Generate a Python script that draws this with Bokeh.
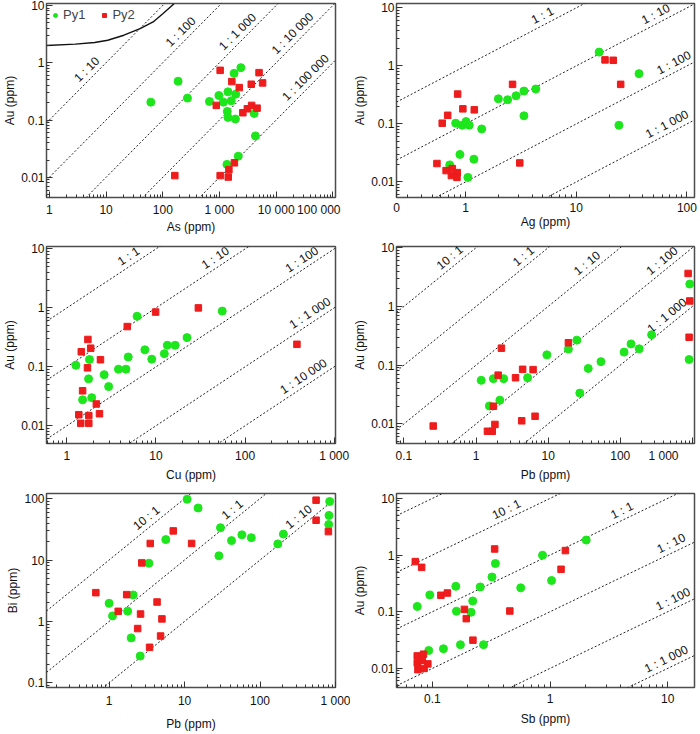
import math
from bokeh.plotting import figure
from bokeh.layouts import gridplot
from bokeh.models import FixedTicker, Legend, LegendItem
from bokeh.core.properties import value
from bokeh.embed import file_html
from bokeh.resources import INLINE

FONT = "Liberation Sans"
GREEN = "#1de61d"
RED = "#ee1c1c"

# --- Au vs As
as_py1 = [61.5, 186, 272, 665, 975, 1170, 1408, 1607, 1371, 1408, 1905, 1931, 1808, 2382, 4083, 4303, 2143, 1353]
au_as_py1 = [0.205, 0.475, 0.241, 0.211, 0.268, 0.205, 0.31, 0.216, 0.141, 0.111, 0.104, 0.282, 0.653, 0.82, 0.13, 0.0528, 0.0234, 0.0168]
as_py2 = [163, 1027, 1650, 2232, 877, 2578, 3098, 3681, 4603, 3630, 4980, 5754, 1027, 1464, 1427, 1832]
au_as_py2 = [0.0107, 0.736, 0.469, 0.368, 0.18, 0.134, 0.157, 0.18, 0.161, 0.421, 0.671, 0.444, 0.0107, 0.0136, 0.0101, 0.0179]
curve_as = [0.89, 2.87, 6.3, 10.7, 20.6, 39.8, 67.5, 100, 158]
curve_au = [2.0, 2.11, 2.25, 2.47, 3.02, 3.94, 5.14, 7.17, 10.7]
as_ratios = [1e-1, 1e-2, 1e-3, 1e-4, 1e-5]
as_ratio_text = ["1 : 10", "1 : 100", "1 : 1 000", "1 : 10 000", "1 : 100 000"]

# --- Au vs Ag
ag_py1 = [16.1, 36.9, 24.3, 4.31, 3.37, 2.86, 2.4, 1.98, 3.37, 1.40, 1.01, 1.08, 0.934, 0.815, 0.89, 1.19, 0.72, 1.05]
au_ag_py1 = [1.73, 0.736, 0.095, 0.40, 0.369, 0.306, 0.261, 0.271, 0.138, 0.082, 0.11, 0.095, 0.095, 0.103, 0.0298, 0.0247, 0.0197, 0.012]
ag_py2 = [18.2, 21.6, 25.2, 2.66, 3.09, 0.849, 0.946, 1.2, 0.69, 0.616, 0.552, 0.668, 0.76, 0.843, 0.745, 0.837]
au_ag_py2 = [1.27, 1.25, 0.481, 0.481, 0.0213, 0.327, 0.182, 0.175, 0.141, 0.103, 0.0208, 0.0157, 0.017, 0.0145, 0.0129, 0.012]
ag_ratios = [1, 1e-1, 1e-2, 1e-3]
ag_ratio_text = ["1 : 1", "1 : 10", "1 : 100", "1 : 1 000"]

# --- Au vs Cu
cu_py1 = [1.26, 1.79, 1.75, 1.5, 1.9, 2.62, 2.94, 3.79, 4.6, 4.88, 6.13, 7.5, 8.96, 12.4, 13.4, 16.4, 22.3, 55.4]
au_cu_py1 = [0.106, 0.133, 0.0625, 0.0276, 0.030, 0.0736, 0.0462, 0.0912, 0.0912, 0.147, 0.721, 0.194, 0.135, 0.167, 0.232, 0.232, 0.313, 0.882]
cu_py2 = [9.9, 29.9, 4.76, 1.72, 1.45, 1.85, 2.38, 1.7, 1.5, 2.14, 2.32, 1.36, 1.76, 1.43, 1.76, 382]
au_cu_py2 = [0.849, 1.0, 0.482, 0.291, 0.18, 0.207, 0.132, 0.096, 0.0392, 0.0234, 0.016, 0.0154, 0.0149, 0.011, 0.011, 0.241]
cu_ratios = [1, 1e-1, 1e-2, 1e-3, 1e-4]
cu_ratio_text = ["1 : 1", "1 : 10", "1 : 100", "1 : 1 000", "1 : 10 000"]

# --- Au vs Pb
pb_py1 = [1.18, 1.74, 2.42, 1.53, 2.14, 5.19, 9.6, 19.1, 25, 27.5, 36, 54, 113, 141, 183, 272, 901, 920]
au_pb_py1 = [0.0553, 0.059, 0.059, 0.0202, 0.0254, 0.0612, 0.15, 0.188, 0.267, 0.0335, 0.088, 0.115, 0.167, 0.23, 0.19, 0.33, 0.125, 2.41]
pb_py2 = [0.255, 1.44, 1.68, 1.83, 1.74, 2.03, 2.25, 3.53, 4.43, 6.19, 4.3, 6.59, 19.1, 873, 920, 901]
au_pb_py2 = [0.0092, 0.0075, 0.0075, 0.0098, 0.020, 0.0677, 0.195, 0.0612, 0.085, 0.084, 0.0113, 0.0135, 0.241, 3.65, 1.24, 0.299]
pb_ratios = [10, 1, 1e-1, 1e-2, 1e-3]
pb_ratio_text = ["10 : 1", "1 : 1", "1 : 10", "1 : 100", "1 : 1 000"]

# --- Bi vs Pb
pb_bi_py1 = [10.8, 15.1, 5.64, 3.37, 29.9, 28.5, 41.9, 57.5, 76.6, 172, 204, 837, 820, 813, 1.0, 1.11, 1.76, 2.08, 1.96, 2.58]
bi_py1 = [97.6, 70.3, 21.5, 8.86, 33.6, 11.7, 20.7, 25.7, 23.1, 18.3, 26.4, 89.7, 53.2, 37.9, 1.97, 1.23, 1.47, 2.7, 0.539, 0.273]
pb_bi_py2 = [553, 553, 805, 7.08, 3.51, 12.4, 2.71, 0.667, 1.71, 1.32, 2.61, 4.32, 5.01, 2.39, 4.81, 3.44]
bi_py2 = [94.2, 44.4, 29.0, 29.8, 18.6, 18.6, 8.97, 2.94, 2.73, 1.46, 1.32, 2.07, 1.1, 0.766, 0.579, 0.379]
bi_ratios = [10, 1, 1e-1]
bi_ratio_text = ["10 : 1", "1 : 1", "1 : 10"]

# --- Au vs Sb
sb_py1 = [0.0743, 0.095, 0.158, 0.16, 0.213, 0.22, 0.255, 0.321, 0.343, 0.563, 0.863, 1.03, 2.03, 0.093, 0.124, 0.173, 0.272]
au_sb_py1 = [0.124, 0.198, 0.281, 0.102, 0.098, 0.155, 0.274, 0.41, 0.71, 0.264, 0.995, 0.356, 1.84, 0.0207, 0.0222, 0.0262, 0.0262]
sb_py2 = [0.0715, 0.081, 0.338, 1.35, 1.24, 0.118, 0.134, 0.187, 0.194, 0.455, 0.221, 0.0743, 0.084, 0.0743, 0.0914, 0.0753, 0.085, 0.082]
au_sb_py2 = [0.767, 0.607, 1.28, 1.2, 0.561, 0.195, 0.214, 0.11, 0.0755, 0.103, 0.0315, 0.0166, 0.0178, 0.0125, 0.012, 0.0095, 0.010, 0.0139]
sb_ratios = [100, 10, 1, 1e-1, 1e-2, 1e-3]
sb_ratio_text = ["", "10 : 1", "1 : 1", "1 : 10", "1 : 100", "1 : 1 000"]

au_ticks = [0.01, 0.1, 1, 10]
au_tick_text = ["0.01", "0.1", "1", "10"]
bi_ticks = [0.1, 1, 10, 100]
bi_tick_text = ["0.1", "1", "10", "100"]

NB = "\u00a0"


def minor_ticks(lo, hi):
    out = []
    for k in range(math.floor(math.log10(lo)), math.ceil(math.log10(hi)) + 1):
        for m in range(2, 10):
            v = m * 10.0 ** k
            if lo <= v <= hi:
                out.append(v)
    return out


def style_axis(ax, ticks, texts, lo, hi):
    ax.ticker = FixedTicker(ticks=ticks, minor_ticks=minor_ticks(lo, hi))
    ax.major_label_overrides = {t: s for t, s in zip(ticks, texts)}
    ax.major_tick_in = 6
    ax.major_tick_out = 0
    ax.minor_tick_in = 3
    ax.minor_tick_out = 0
    ax.major_tick_line_color = "#333333"
    ax.minor_tick_line_color = "#333333"
    ax.axis_line_color = None
    ax.major_label_text_font = FONT
    ax.major_label_text_font_size = "12px"
    ax.major_label_text_color = "#111111"
    ax.axis_label_text_font = FONT
    ax.axis_label_text_font_size = "12px"
    ax.axis_label_text_font_style = "normal"
    ax.axis_label_text_color = "#111111"


def make_panel(w, h, border, xr, yr, xticks, xtext, yticks, ytext, xtitle, ytitle,
               gaps, ratios, ratio_text, label_x):
    left, right, top, bottom = border
    p = figure(width=w, height=h, x_axis_type="log", y_axis_type="log",
               x_range=xr, y_range=yr, output_backend="svg", toolbar_location=None,
               min_border_left=left, min_border_right=right,
               min_border_top=top, min_border_bottom=bottom)
    p.xgrid.visible = False
    p.ygrid.visible = False
    p.outline_line_color = "#4d4d4d"
    p.outline_line_width = 1.5
    p.background_fill_color = "white"
    p.border_fill_color = "white"

    style_axis(p.xaxis[0], xticks, xtext, xr[0], xr[1])
    style_axis(p.yaxis[0], yticks, ytext, yr[0], yr[1])
    p.xaxis.axis_label = xtitle
    p.yaxis.axis_label = ytitle
    p.xaxis.major_label_standoff = gaps[0]
    p.xaxis.axis_label_standoff = gaps[1]
    p.yaxis.major_label_standoff = 2
    p.yaxis.axis_label_standoff = 1

    # ratio lines
    for r in ratios:
        p.line([xr[0], xr[1]], [r * xr[0], r * xr[1]], line_dash="2 2",
               line_color="#222222", line_width=1)

    # line labels, rotated along the lines
    fw = w - left - right
    fh = h - top - bottom
    px_dec_x = fw / (math.log10(xr[1]) - math.log10(xr[0]))
    px_dec_y = fh / (math.log10(yr[1]) - math.log10(yr[0]))
    ang = math.atan(px_dec_y / px_dec_x)
    lx, ly, lt = [], [], []
    for r, t, x in zip(ratios, ratio_text, label_x):
        if t:
            lx.append(x)
            ly.append(r * x)
            lt.append(t)
    p.text(x=lx, y=ly, text=lt, angle=ang, text_align="center", text_baseline="bottom",
           x_offset=-2 * math.sin(ang), y_offset=-2 * math.cos(ang),
           text_font=value(FONT), text_font_size="12px", text_color="#111111")
    return p


def add_points(p, x1, y1, x2, y2):
    r1 = p.scatter(x1, y1, marker="circle", size=8, fill_color=GREEN, line_color=GREEN)
    r2 = p.scatter(x2, y2, marker="square", size=6.5, fill_color=RED, line_color=RED)
    return r1, r2


WL, WR = 350, 348
H1, H2, H3 = 238, 246, 249
BL = (38, 15)
BR = (44, 4)

p1 = make_panel(WL, H1, BL + (2, 41), (0.89, 111000), (0.00444, 10.8),
                [1, 10, 100, 1000, 10000, 100000],
                ["1", "10", "100", "1 000", "10 000", "100 000" + NB * 3],
                au_ticks, au_tick_text, "As (ppm)", "Au (ppm)", (5, 0),
                as_ratios, as_ratio_text, [5.9, 268, 2685, 25100, 42600])
p1.line(curve_as, curve_au, line_color="#111111", line_width=1.4)
g1, s1 = add_points(p1, as_py1, au_as_py1, as_py2, au_as_py2)
legend = Legend(items=[LegendItem(label="Py1", renderers=[g1]), LegendItem(label="Py2", renderers=[s1])],
                orientation="horizontal", location="top_left", border_line_color=None,
                background_fill_alpha=0, label_text_font=FONT, label_text_font_size="13px",
                glyph_width=10, glyph_height=10, label_standoff=3, spacing=14, margin=4, padding=5)
p1.add_layout(legend)

p2 = make_panel(WR, H1, BR + (3, 41), (0.238, 117), (0.0054, 11.9),
                [0.238, 1, 10, 100], ["0", "1", "10", "100"],
                au_ticks, au_tick_text, "Ag (ppm)", "Au (ppm)", (5, 0),
                ag_ratios, ag_ratio_text, [5.41, 57, 83, 72])
add_points(p2, ag_py1, au_ag_py1, ag_py2, au_ag_py2)

p3 = make_panel(WL, H2, BL + (8, 36), (0.59, 1035), (0.0050, 11),
                [1, 10, 100, 1000], ["1", "10", "100", "1 000"],
                au_ticks, au_tick_text, "Cu (ppm)", "Au (ppm)", (5, 2),
                cu_ratios, cu_ratio_text, [5.6, 52.7, 492, 608, 514])
add_points(p3, cu_py1, au_cu_py1, cu_py2, au_cu_py2)

p4 = make_panel(WR, H2, BR + (8, 36), (0.079, 1070), (0.00464, 10.5),
                [0.1, 1, 10, 100, 1000], ["0.1", "1", "10", "100", "1 000" + NB * 6],
                au_ticks, au_tick_text, "Pb (ppm)", "Au (ppm)", (5, 2),
                pb_ratios, pb_ratio_text, [0.52, 5.47, 41.7, 457, 535])
add_points(p4, pb_py1, au_pb_py1, pb_py2, au_pb_py2)

p5 = make_panel(WL, H3, BL + (9, 41), (0.148, 1000), (0.084, 121),
                [1, 10, 100, 1000], ["1", "10", "100", "1 000"],
                bi_ticks, bi_tick_text, "Pb (ppm)", "Bi (ppm)", (6, 6),
                bi_ratios, bi_ratio_text, [3.72, 51, 387])
add_points(p5, pb_bi_py1, bi_py1, pb_bi_py2, bi_py2)

p6 = make_panel(WR, H3, BR + (8, 41), (0.0495, 16.9), (0.0046, 12.2),
                [0.1, 1, 10], ["0.1", "1", "10"],
                au_ticks, au_tick_text, "Sb (ppm)", "Au (ppm)", (6, 6),
                sb_ratios, sb_ratio_text, [1, 0.461, 4.41, 11.6, 12.0, 10.5])
add_points(p6, sb_py1, au_sb_py1, sb_py2, au_sb_py2)

p = gridplot([[p1, p2], [p3, p4], [p5, p6]], toolbar_location=None)

open("out.html", "w").write(file_html(p, INLINE))
